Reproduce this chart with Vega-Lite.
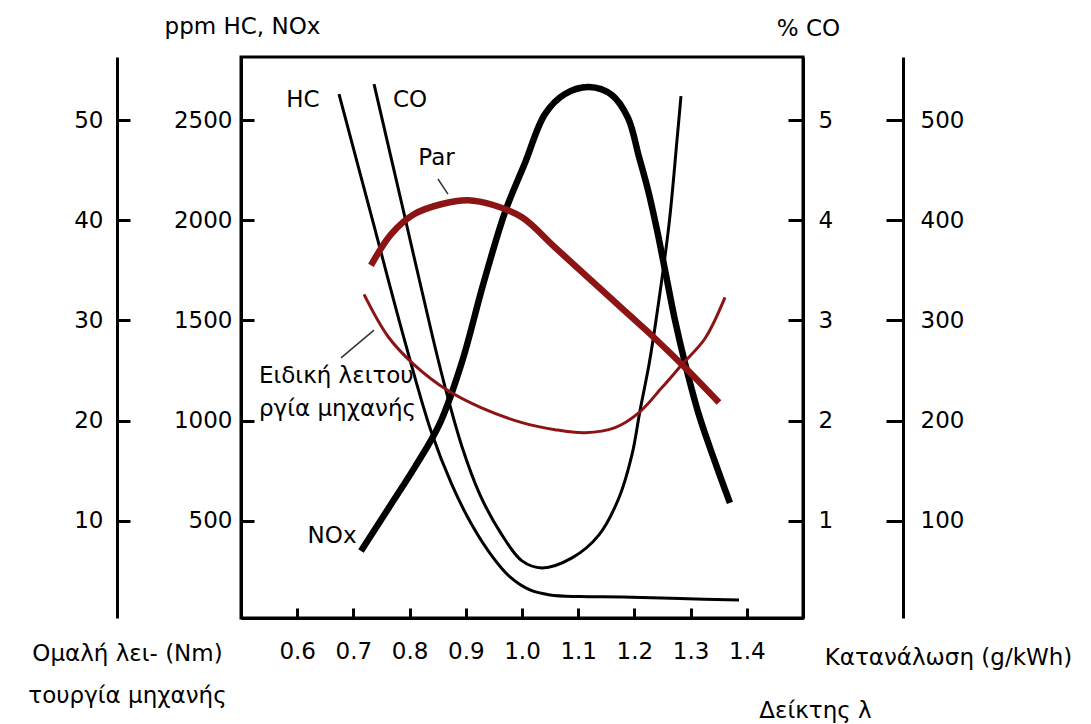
{
"$schema": "https://vega.github.io/schema/vega-lite/v6.json",
"width": 562, "height": 561,
"autosize": {"type": "none"},
"padding": {"left": 241, "top": 57, "right": 288, "bottom": 106},
"background": "white",
"config": {
  "view": {"stroke": "black", "strokeWidth": 3},
  "font": "DejaVu Sans",
  "axis": {"domainColor": "black", "domainWidth": 3, "tickColor": "black", "tickWidth": 3, "labelColor": "black", "labelFont": "DejaVu Sans", "labelFontSize": 23, "titleFont": "DejaVu Sans", "titleFontSize": 23, "titleFontWeight": "normal", "titleColor": "black", "grid": false, "titleAngle": 0, "titleBaseline": "alphabetic", "titleAlign": "center", "labelFlush": false, "labelOverlap": false, "format": "d"}
},
"datasets": {
  "curves": [
    {"s":"HC","lam":0.6744,"v":2630},{"s":"HC","lam":0.7331,"v":2011},{"s":"HC","lam":0.790,"v":1412},{"s":"HC","lam":0.8381,"v":948},{"s":"HC","lam":0.8754,"v":679},{"s":"HC","lam":0.911,"v":479},{"s":"HC","lam":0.9466,"v":324},{"s":"HC","lam":0.9786,"v":220},{"s":"HC","lam":1.0142,"v":155},{"s":"HC","lam":1.0498,"v":130},{"s":"HC","lam":1.1032,"v":122},{"s":"HC","lam":1.178,"v":120},{"s":"HC","lam":1.2811,"v":112},{"s":"HC","lam":1.3861,"v":105},
    {"s":"NOx","lam":0.7135,"v":349},{"s":"NOx","lam":0.7651,"v":574},{"s":"NOx","lam":0.8096,"v":769},{"s":"NOx","lam":0.8541,"v":988},{"s":"NOx","lam":0.8932,"v":1293},{"s":"NOx","lam":0.9306,"v":1677},{"s":"NOx","lam":0.9698,"v":2041},{"s":"NOx","lam":1.0053,"v":2286},{"s":"NOx","lam":1.0409,"v":2530},{"s":"NOx","lam":1.0765,"v":2630},{"s":"NOx","lam":1.1192,"v":2665},{"s":"NOx","lam":1.1601,"v":2625},{"s":"NOx","lam":1.1886,"v":2511},{"s":"NOx","lam":1.2082,"v":2316},{"s":"NOx","lam":1.2242,"v":2151},{"s":"NOx","lam":1.2402,"v":1952},{"s":"NOx","lam":1.2562,"v":1727},{"s":"NOx","lam":1.2722,"v":1502},{"s":"NOx","lam":1.29,"v":1288},{"s":"NOx","lam":1.3149,"v":1028},{"s":"NOx","lam":1.3434,"v":794},{"s":"NOx","lam":1.370,"v":589},
    {"s":"CO","lam":0.7367,"v":5.36},{"s":"CO","lam":0.790,"v":4.07},{"s":"CO","lam":0.8416,"v":2.82},{"s":"CO","lam":0.8648,"v":2.30},{"s":"CO","lam":0.8932,"v":1.74},{"s":"CO","lam":0.9253,"v":1.26},{"s":"CO","lam":0.9609,"v":0.89},{"s":"CO","lam":1.0,"v":0.6},{"s":"CO","lam":1.0356,"v":0.53},{"s":"CO","lam":1.089,"v":0.63},{"s":"CO","lam":1.137,"v":0.86},{"s":"CO","lam":1.1726,"v":1.23},{"s":"CO","lam":1.1957,"v":1.66},{"s":"CO","lam":1.21,"v":2.10},{"s":"CO","lam":1.226,"v":2.56},{"s":"CO","lam":1.2384,"v":3.00},{"s":"CO","lam":1.2616,"v":3.96},{"s":"CO","lam":1.2758,"v":4.80},{"s":"CO","lam":1.2829,"v":5.24},
    {"s":"Par","lam":0.7313,"v":35.5},{"s":"Par","lam":0.7669,"v":38.6},{"s":"Par","lam":0.8078,"v":40.6},{"s":"Par","lam":0.8559,"v":41.6},{"s":"Par","lam":0.9039,"v":42.0},{"s":"Par","lam":0.9502,"v":41.5},{"s":"Par","lam":1.0,"v":40.3},{"s":"Par","lam":1.0587,"v":37.3},{"s":"Par","lam":1.1192,"v":34.2},{"s":"Par","lam":1.1779,"v":31.2},{"s":"Par","lam":1.2367,"v":28.2},{"s":"Par","lam":1.2936,"v":25.1},{"s":"Par","lam":1.3505,"v":21.8},
    {"s":"be","lam":0.7189,"v":326},{"s":"be","lam":0.7616,"v":284},{"s":"be","lam":0.8078,"v":256},{"s":"be","lam":0.8683,"v":230},{"s":"be","lam":0.927,"v":213},{"s":"be","lam":1.0,"v":198},{"s":"be","lam":1.0587,"v":191},{"s":"be","lam":1.1121,"v":188},{"s":"be","lam":1.1655,"v":193},{"s":"be","lam":1.2082,"v":208},{"s":"be","lam":1.249,"v":233},{"s":"be","lam":1.2847,"v":256},{"s":"be","lam":1.3256,"v":282},{"s":"be","lam":1.3612,"v":323}
  ],
  "tags": [
    {"t":"HC","lam":0.6103,"v":2600},{"t":"CO","lam":0.8007,"v":2600},{"t":"Par","lam":0.8479,"v":2311},{"t":"NOx","lam":0.662,"v":424}
  ],
  "note": [
    {"t":"Ειδική λειτου","lam":0.532,"v":1188},{"t":"ργία μηχανής","lam":0.532,"v":1023}
  ],
  "leaders": [
    {"lam":0.8505,"v":2206,"lam2":0.8683,"v2":2131},{"lam":0.678,"v":1313,"lam2":0.7367,"v2":1452}
  ]
},
"data": {"name": "curves"},
"encoding": {
  "x": {"field": "lam", "type": "quantitative", "scale": {"domain": [0.5, 1.5], "nice": false, "zero": false},
        "axis": {"orient": "bottom", "values": [0.6,0.7,0.8,0.9,1.0,1.1,1.2,1.3,1.4], "format": ".1f", "tickSize": -10, "labelPadding": 50, "labelBaseline": "alphabetic", "title": "Δείκτης λ", "titleX": 574, "titleY": 99}}
},
"layer": [
  {
    "encoding": {"y": {"field": "v", "type": "quantitative", "scale": {"domain": [15, 2815], "nice": false, "zero": false},
      "axis": {"orient": "left", "values": [500,1000,1500,2000,2500], "tickSize": -13, "labelPadding": 22, "title": "ppm HC, NOx", "titleX": 1, "titleY": -24}}},
    "layer": [
      {"data": {"name": "note"}, "mark": {"type": "text", "align": "left", "baseline": "alphabetic", "fontSize": 23, "color": "black", "font": "DejaVu Sans"},
       "encoding": {"text": {"field": "t"}}},
      {"data": {"name": "tags"}, "mark": {"type": "text", "align": "center", "baseline": "middle", "fontSize": 23, "color": "black", "font": "DejaVu Sans"},
       "encoding": {"text": {"field": "t"}}},
      {"data": {"name": "leaders"}, "mark": {"type": "rule", "color": "#333333", "strokeWidth": 1.5},
       "encoding": {"x2": {"field": "lam2"}, "y2": {"field": "v2"}}},
      {"transform": [{"filter": "datum.s === 'HC'"}], "mark": {"type": "line", "color": "black", "strokeWidth": 3, "interpolate": "catmull-rom"}},
      {"transform": [{"filter": "datum.s === 'NOx'"}], "mark": {"type": "line", "color": "black", "strokeWidth": 6.5, "interpolate": "catmull-rom"}}
    ]
  },
  {
    "transform": [{"filter": "datum.s === 'CO'"}],
    "mark": {"type": "line", "color": "black", "strokeWidth": 3, "interpolate": "catmull-rom"},
    "encoding": {"y": {"field": "v", "type": "quantitative", "scale": {"domain": [0.03, 5.63], "nice": false, "zero": false},
      "axis": {"orient": "right", "values": [1,2,3,4,5], "tickSize": -15, "labelPadding": 30, "title": "% CO", "titleX": 5, "titleY": -22}}}
  },
  {
    "transform": [{"filter": "datum.s === 'Par'"}],
    "mark": {"type": "line", "color": "#8c1414", "strokeWidth": 6.5, "interpolate": "catmull-rom"},
    "encoding": {"y": {"field": "v", "type": "quantitative", "scale": {"domain": [0.3, 56.3], "nice": false, "zero": false},
      "axis": {"orient": "left", "offset": 124, "values": [10,20,30,40,50], "tickSize": -13, "labelPadding": 27, "title": ["Ομαλή λει- (Nm)", "τουργία μηχανής"], "titleLineHeight": 42, "titleX": 10, "titleY": 603}}}
  },
  {
    "transform": [{"filter": "datum.s === 'be'"}],
    "mark": {"type": "line", "color": "#8c1414", "strokeWidth": 3, "interpolate": "catmull-rom"},
    "encoding": {"y": {"field": "v", "type": "quantitative", "scale": {"domain": [3, 563], "nice": false, "zero": false},
      "axis": {"orient": "right", "offset": 100, "values": [100,200,300,400,500], "tickSize": -17, "labelPadding": 34, "title": "Κατανάλωση (g/kWh)", "titleX": 45, "titleY": 607}}}
  }
],
"resolve": {"scale": {"y": "independent"}, "axis": {"y": "independent"}}
}
